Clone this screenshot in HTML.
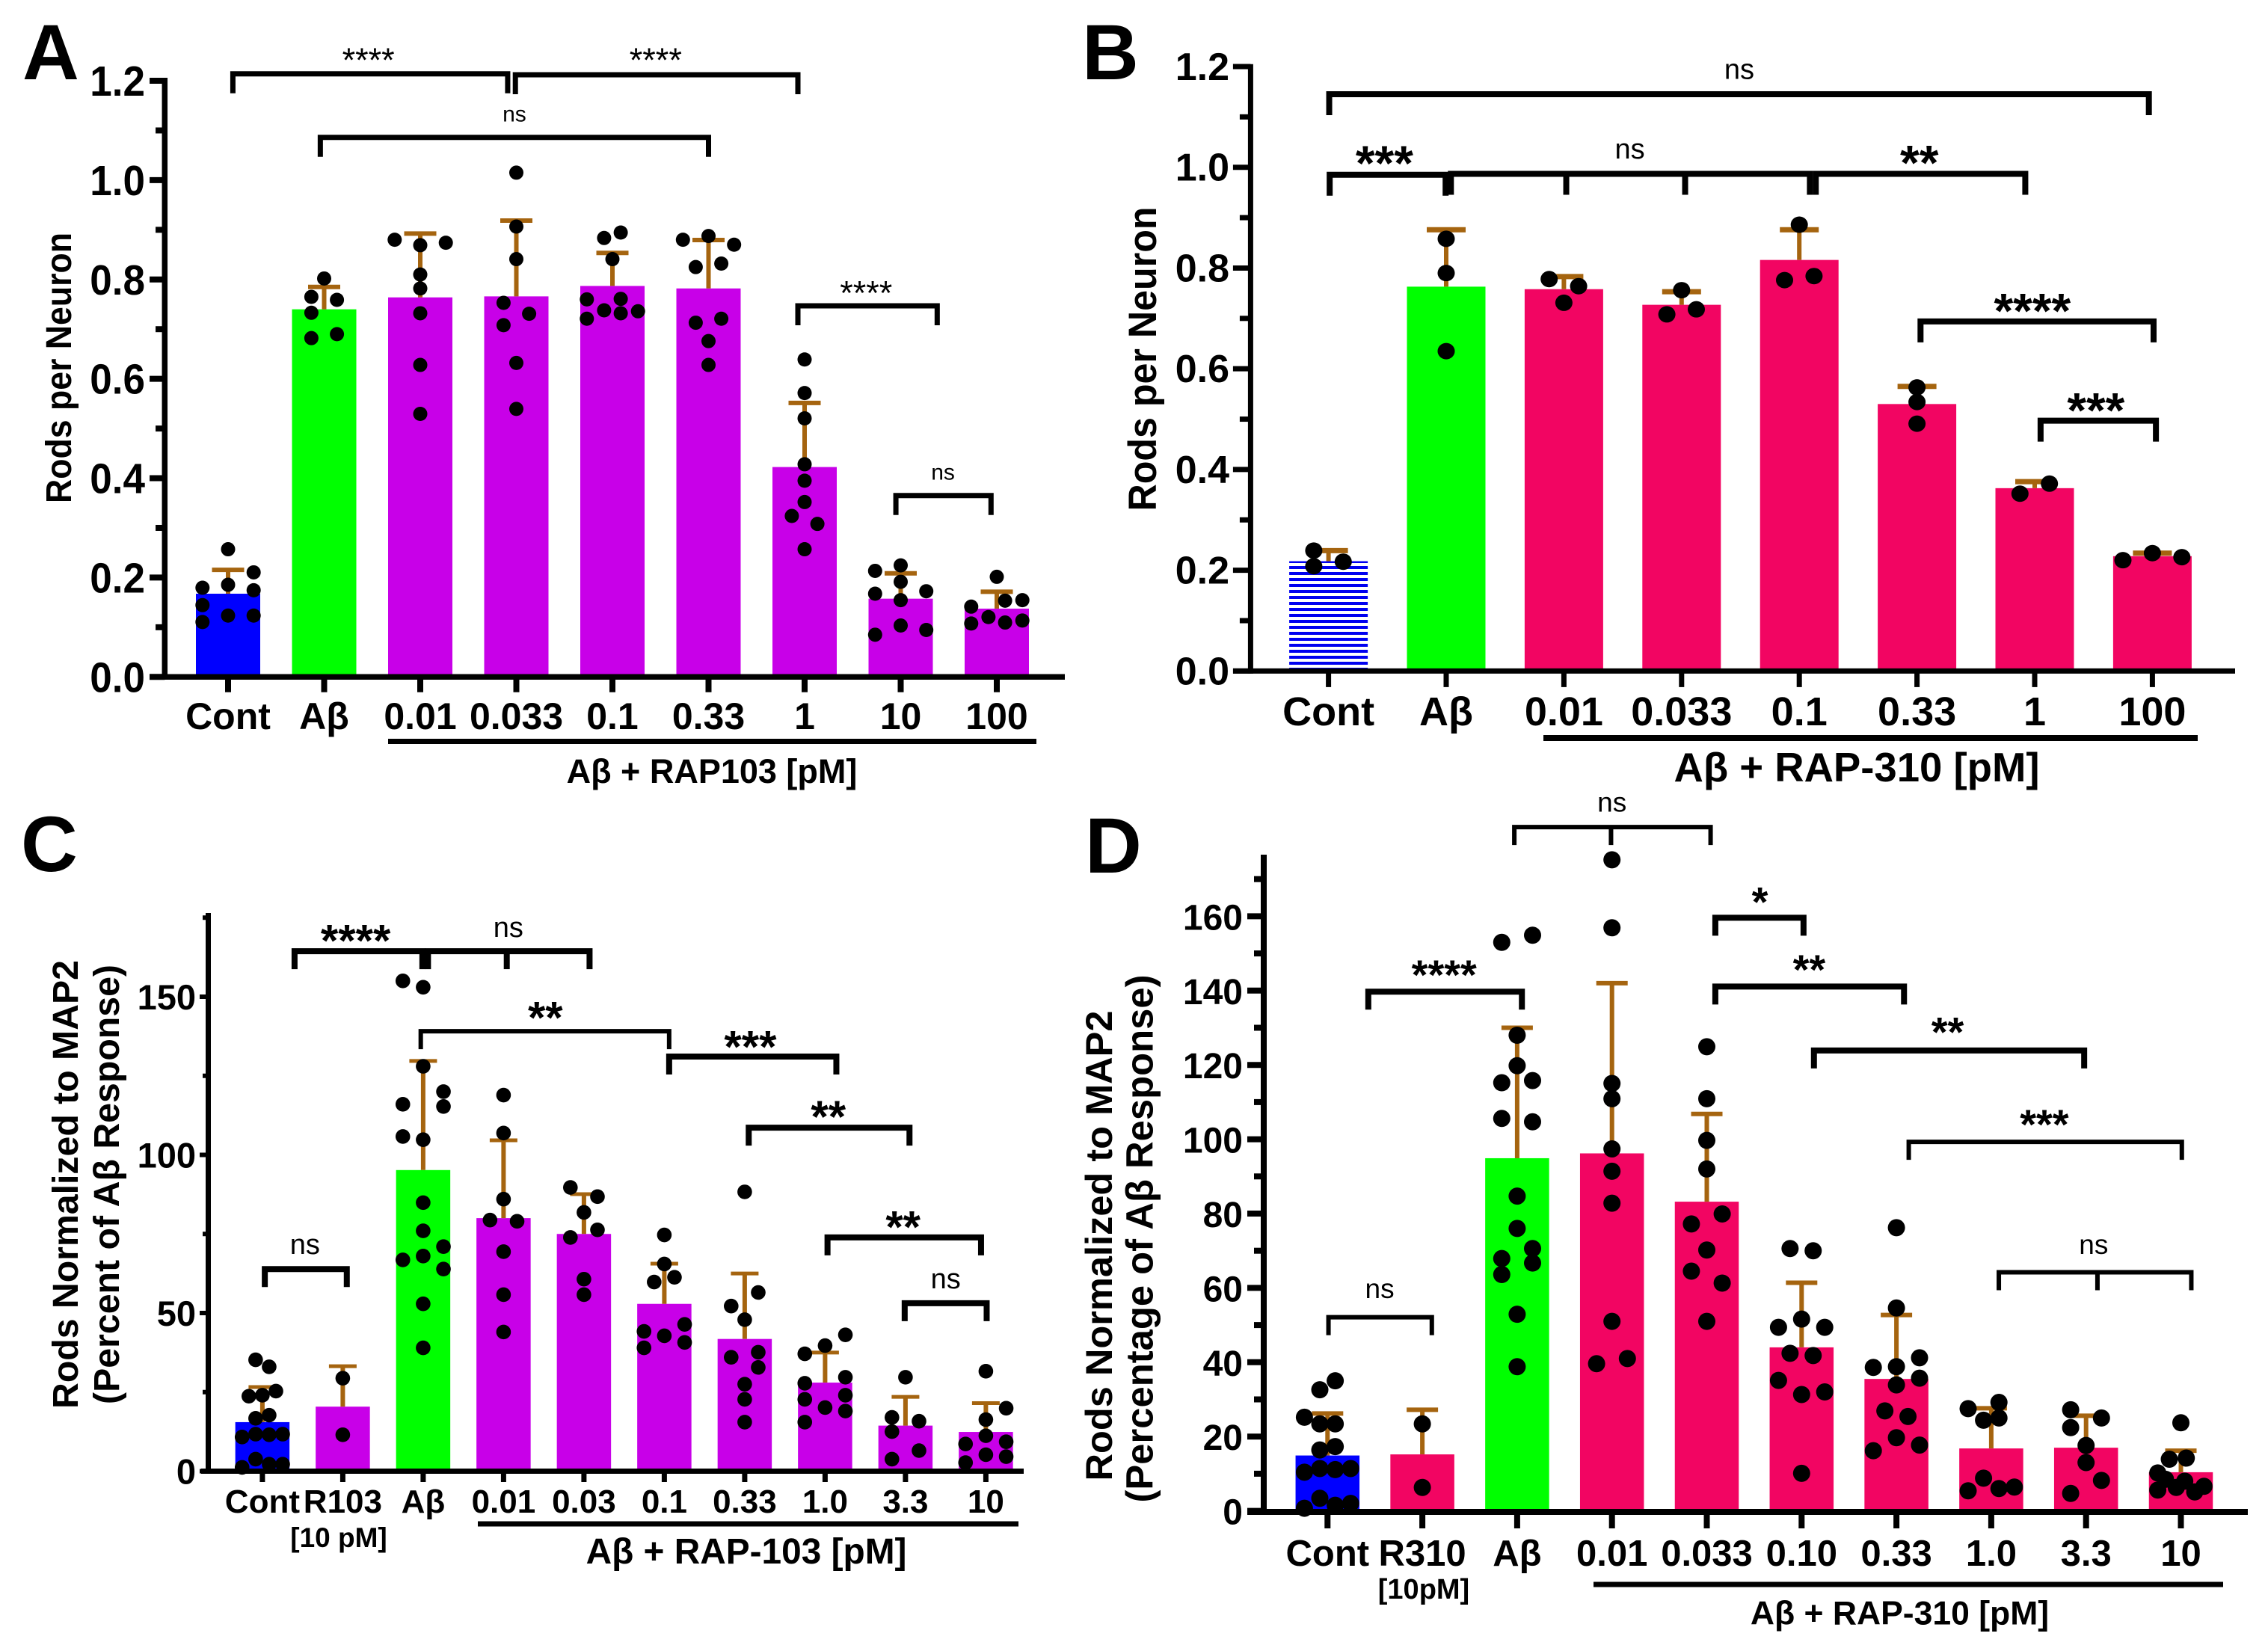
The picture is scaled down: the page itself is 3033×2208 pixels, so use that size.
<!DOCTYPE html>
<html lang="en">
<head>
<meta charset="utf-8">
<title>Rods per neuron bar charts</title>
<style>
html,body{margin:0;padding:0;background:#fff;}
svg{display:block;}
text{font-family:"Liberation Sans","DejaVu Sans",sans-serif;fill:#000;}
</style>
</head>
<body>
<svg id="figure" xmlns="http://www.w3.org/2000/svg" width="3033" height="2208" viewBox="0 0 3033 2208">
  <defs>
    <pattern id="hatch" patternUnits="userSpaceOnUse" x="0" y="5" width="8" height="8">
      <rect x="0" y="0" width="8" height="4" fill="#0000f0"></rect>
    </pattern>
  </defs>
  <rect x="0" y="0" width="3033" height="2208" fill="#fff"></rect>
  <g id="panel-a"></g>
  <g id="panel-b"></g>
  <g id="panel-c"></g>
  <g id="panel-d"></g>
  <text x="30" y="106" font-size="105" font-weight="700">A</text>
  <text x="1447" y="106" font-size="105" font-weight="700">B</text>
  <text x="28" y="1165" font-size="105" font-weight="700">C</text>
  <text x="1451" y="1167" font-size="105" font-weight="700">D</text>
</svg>
<script>
// ---------- Panel A data ----------
const catsA = ['Cont','Aβ','0.01','0.033','0.1','0.33','1','10','100'];
const barsA = [0.1675,0.740,0.764,0.766,0.787,0.782,0.4225,0.1575,0.1375];
const errsA = [0.2155,0.785,0.8925,0.9185,0.8535,0.8795,0.5515,0.2085,0.1715];
const yTicksA = ['0.0','0.2','0.4','0.6','0.8','1.0','1.2'];
const dotsA = [
  [0.257,0.1795,0.2105,0.1855,0.1745,0.1445,0.1235,0.1235,0.1105],
  [0.802,0.765,0.759,0.733,0.682,0.690],
  [0.880,0.874,0.869,0.810,0.782,0.732,0.628,0.5295],
  [1.015,0.9065,0.841,0.753,0.731,0.708,0.632,0.5395],
  [0.8945,0.8835,0.841,0.760,0.761,0.738,0.732,0.721,0.736],
  [0.880,0.8875,0.870,0.825,0.832,0.713,0.721,0.676,0.628],
  [0.639,0.5715,0.5205,0.428,0.395,0.352,0.324,0.308,0.257],
  [0.2135,0.2245,0.1915,0.1725,0.1675,0.1545,0.1035,0.0945,0.085],
  [0.2015,0.1415,0.1535,0.1545,0.1205,0.1075,0.1095,0.1135]
];
const slotsA = [
  [0,-2,2,0,2,-2,0,2,-2],
  [0,-1,1,-1,-1,1],
  [-2,2,0,0,0,0,0,0],
  [0,0,0,-1,1,-1,0,0],
  [0.65,-0.65,0,-2,0.65,-0.65,0.65,-2,2],
  [-2,0,2,-1,1,-1,1,0,0],
  [0,0,0,0,0,0,-1,1,0],
  [-2,0,0,2,-2,0,0,2,-2],
  [0,-2,0.65,2,-0.65,-2,0.65,2]
];
// from, to, value, label, label index, label value, extra inner legs
const bracketsA = [
  [0.05,2.91,1.214,'****',1.46,1.25],
  [2.99,5.93,1.212,'****',4.45,1.25],
  [0.96,5.0,1.086,'ns',2.98,1.13],
  [5.93,7.38,0.747,'****',6.64,0.781],
  [6.95,7.94,0.365,'ns',7.44,0.409]
];

// ---------- Panel B data ----------
const catsB = ['Cont','Aβ','0.01','0.033','0.1','0.33','1','100'];
const barsB = [0.218,0.763,0.758,0.727,0.816,0.53,0.363,0.228];
const errsB = [0.239,0.876,0.783,0.753,0.876,0.565,0.376,0.234];
const yTicksB = ['0.0','0.2','0.4','0.6','0.8','1.0','1.2'];
const dotsB = [
  [0.239,0.208,0.217],
  [0.858,0.79,0.635],
  [0.778,0.764,0.731],
  [0.756,0.718,0.708],
  [0.886,0.784,0.776],
  [0.563,0.534,0.491],
  [0.372,0.352],
  [0.234,0.226,0.22]
];
const slotsB = [
  [-1,-1,1],
  [0,0,0],
  [-1,1,0],
  [0,1,-1],
  [0,1,-1],
  [0,0,0],
  [1,-1],
  [0,2,-2]
];
const bracketsB = [
  [0.006,6.97,1.145,'ns',3.49,1.19],
  [0.01,0.995,0.985,'***',0.475,1.02],
  [1.04,4.09,0.987,'ns',2.56,1.032,2.02,3.03],
  [4.14,5.92,0.987,'**',5.02,1.021],
  [5.03,7.01,0.694,'****',5.98,0.727],
  [6.05,7.03,0.497,'***',6.52,0.53]
];

// ---------- Panel C data ----------
const catsC = ['Cont','R103','Aβ','0.01','0.03','0.1','0.33','1.0','3.3','10'];
const barsC = [15.5,20.4,95.2,80,75,52.9,41.8,28,14.4,12.4];
const errsC = [26.6,33.2,129.7,104.6,87.6,65.6,62.5,37.5,23.5,21.5];
const yTicksC = ['0','50','100','150'];
const dotsC = [
  [35.2,33,23.7,25.3,24,16.7,17.7,10.8,11.7,11.5,11.7,3.8,2.2,2.2,1.2],
  [29.4,11.5],
  [155,153,128,120,115.3,116,105.8,104.8,84.9,76,71,68,66.8,63.9,52.9,39],
  [118.9,106.9,86,79.4,79,69.4,55.8,44],
  [89.7,86.8,81.8,76.3,73.9,60.7,55.8],
  [74.7,65.5,59.8,61.3,44.2,46.4,42.8,40.7,39],
  [88.3,56.5,52.2,47.9,37.6,36,32.8,27.5,22.7,15.5],
  [43.1,39.7,37.1,29.7,27.8,24,22.7,20.1,19,15.5],
  [29.7,17,15.8,12.5,6.5,3.8],
  [31.6,19.9,16.3,11.2,8.6,9.3,5.2,4.6,2.7]
];
const slotsC = [
  [-0.5,0.5,-1,1,0,-0.5,0.5,-1.5,-0.5,0.5,1.5,-0.5,0.5,1.5,-1.5],
  [0,0],
  [-1.5,0,0,1.5,1.5,-1.5,-1.5,0,0,0,1.5,0,-1.5,1.5,0,0],
  [0,0,0,-1,1,0,0,0],
  [-1,1,0,1,-1,0,0],
  [0,0,-0.75,0.75,-1.5,1.5,0,1.5,-1.5],
  [0,1,-1,0,1,-1,1,0,0,0],
  [1.5,0,-1.5,1.5,-1.5,1.5,-1.5,0,1.5,-1.5],
  [0,-1,1,-1,1,-1],
  [0,1.5,0,0,-1.5,1.5,0,1.5,-1.5]
];
const bracketsC = [
  [0.03,1.05,63.9,'ns',0.53,71],
  [0.4,1.99,164.4,'****',1.16,169.6],
  [2.06,4.07,164.4,'ns',3.06,171.3,3.04],
  [1.97,5.06,139.1,'**',3.52,145.2],
  [5.06,7.14,131.1,'***',6.07,136],
  [6.05,8.05,108.6,'**',7.04,113.9],
  [7.03,8.94,73.9,'**',7.97,79],
  [7.99,9.01,53.1,'ns',8.5,60.1]
];

// ---------- Panel D data ----------
const catsD = ['Cont','R310','Aβ','0.01','0.033','0.10','0.33','1.0','3.3','10'];
const barsD = [14.9,15.2,94.9,96.2,83.2,44,35.5,16.8,17,10.4];
const errsD = [26.2,27.2,130,142,106.8,61.4,52.7,27.6,25.6,16.2];
const yTicksD = ['0','20','40','60','80','100','120','140','160'];
const dotsD = [
  [35,32.6,25.2,23.4,23.4,17.3,16.4,11.4,11.1,11.4,10.4,3.4,2,1.5,0.7],
  [23.4,6.3],
  [153,154.9,128,119.8,115.2,115.8,105.6,104.7,84.7,76,70.6,67.9,66.7,63.6,52.9,38.8],
  [175.2,156.9,115,110.9,97.4,91.4,82.8,51,41,39.6],
  [124.9,110.9,99.7,92,79.9,77.2,70.2,64.5,61.3,51],
  [70.6,70,51.6,49.4,49.4,42.4,41.8,35.1,32,31.3,10.1],
  [76.2,54.6,41.2,38.6,38.8,35.7,33.9,26.9,25.4,19.7,17.7,16.2],
  [29.2,27.5,24.4,25,8.8,5.4,6,6.4],
  [27.2,25,22.4,17.6,13,8.2,4.7],
  [23.7,13.9,14.2,10.2,8.5,8,6.6,5.6,6.3,5.1]
];
const slotsD = [
  [0.5,-0.5,-1.5,-0.5,0.5,0.5,-0.5,1.5,0.5,-0.5,-1.5,-0.5,1.5,0.5,-1.5],
  [0,0],
  [-1,1,0,0,-1,1,-1,1,0,0,1,-1,1,-1,0,0],
  [0,0,0,0,0,0,0,0,1,-1],
  [0,0,0,0,1,-1,0,-1,1,0],
  [-0.75,0.75,0,-1.5,1.5,-0.75,0.75,-1.5,1.5,0,0],
  [0,0,1.5,-1.5,0,1.5,0,-0.75,0.75,0,1.5,-1.5],
  [0.5,-1.5,-0.5,0.5,-0.5,-1.5,0.5,1.5],
  [-1,1,-1,0,0,1,-1],
  [0,-0.75,0.35,-1.5,-1,0.25,1.5,-1.5,-0.3,0.9]
];
const bracketsD = [
  [0.01,1.1,52.1,'ns',0.55,59.2],
  [0.43,2.05,139.7,'****',1.23,145.7],
  [1.97,4.04,184,'ns',3.0,190.1,2.99],
  [4.09,5.02,159.6,'*',4.56,165.3],
  [4.09,6.08,141.1,'**',5.08,147.1],
  [5.13,7.98,123.9,'**',6.54,130.3],
  [6.13,9.01,99.3,'***',7.56,105.4],
  [7.08,9.11,64.2,'ns',8.08,71.1,8.12]
];

// ---------- Panel layout (pixel geometry and styling only) ----------
const BLUE = '#0000ff', GREEN = '#00ff00', PURPLE = '#c800e8', PINK = '#f20562', HATCH = 'url(#hatch)';
const layoutA = {id:'panel-a', x0:305, dx:128.5, y0:905.3, k:664.4, xAxisY:905.3, axisX:220.3, axisW:7.5, xAxisW:7.5, xAxisL:200, xAxisR:1424, axisTop:107, barW:86, slot:17.1,
  rx:9.5, ry:9.5, capW:43, errCapH:6, tickLabelR:194, tickFont:57, tickSX:0.93, tickDy:20, majorL:16.5, minorL:8.5, tickW:8, xTick:16.7, xTickW:8, xFont:50, xBase:975,
  fills:[BLUE,GREEN,PURPLE,PURPLE,PURPLE,PURPLE,PURPLE,PURPLE,PURPLE],
  brW:7, brThin:[], leg:26, nsFont:30, starFont:45, starWeight:400, yMaxLine:1.2, groupL:519, groupR:1386, groupY:991.5, groupH:7,
  groupText:'Aβ + RAP103 [pM]', groupX:952, groupBase:1047, groupFont:45,
  titles:[{t:'Rods per Neuron', x:95, y:492, len:362, font:48}]};
const layoutB = {id:'panel-b', x0:1776.6, dx:157.4, y0:897.4, k:673.7, xAxisY:897.4, axisX:1672.4, axisW:7, xAxisW:7, xAxisL:1649, xAxisR:2989, axisTop:88.8, barW:105, slot:19.7,
  rx:11.5, ry:11, capW:52, errCapH:7, tickLabelR:1644, tickFont:52, tickSX:1, tickDy:18, majorL:20, minorL:11, tickW:7, xTick:18, xTickW:7, xFont:54, xBase:970,
  fills:[HATCH,GREEN,PINK,PINK,PINK,PINK,PINK,PINK],
  brW:8, brThin:[], leg:28, nsFont:38, starFont:66, starWeight:700, yMaxLine:1.2, groupL:2064, groupR:2939, groupY:987, groupH:8,
  groupText:'Aβ + RAP-310 [pM]', groupX:2483, groupBase:1045, groupFont:54.5,
  titles:[{t:'Rods per Neuron', x:1546, y:480, len:407, font:53}]};
const layoutC = {id:'panel-c', x0:350.9, dx:107.5, y0:1967.5, k:4.23, xAxisY:1967.5, axisX:278.5, axisW:7, xAxisW:7, xAxisL:269, xAxisR:1369, axisTop:1224, barW:72.5, slot:18.1,
  rx:9.8, ry:9.8, capW:37, errCapH:5, tickLabelR:262, tickFont:47, tickSX:1, tickDy:17, majorL:8, minorL:4, tickW:6, xTick:11, xTickW:7, xFont:44, xBase:2023,
  fills:[BLUE,PURPLE,GREEN,PURPLE,PURPLE,PURPLE,PURPLE,PURPLE,PURPLE,PURPLE],
  brW:8, brThin:[3], leg:24, nsFont:38, starFont:60, starWeight:700, yMaxLine:175, groupL:639, groupR:1362, groupY:2038, groupH:7,
  groupText:'Aβ + RAP-103 [pM]', groupX:998, groupBase:2091, groupFont:47.8,
  subText:'[10 pM]', subX:453, subBase:2069, subFont:37,
  titles:[{t:'Rods Normalized to MAP2', x:104, y:1584, len:600, font:48},{t:'(Percent of Aβ Response)', x:159, y:1584, len:588, font:48}]};
const layoutD = {id:'panel-d', x0:1775.3, dx:126.8, y0:2020.6, k:4.97, xAxisY:2022, axisX:1690, axisW:8, xAxisW:8, xAxisL:1668, xAxisR:3006, axisTop:1146, barW:85.5, slot:20.6,
  rx:11.5, ry:11.5, capW:42, errCapH:6, tickLabelR:1662, tickFont:48, tickSX:1, tickDy:18, majorL:18, minorL:9, tickW:8, xTick:18, xTickW:8, xFont:49, xBase:2094,
  fills:[BLUE,PINK,GREEN,PINK,PINK,PINK,PINK,PINK,PINK,PINK],
  brW:8, brThin:[0,2,6,7], leg:24, nsFont:37, starFont:56, starWeight:700, yMaxLine:170, groupL:2131, groupR:2973, groupY:2119, groupH:7,
  groupText:'Aβ + RAP-310 [pM]', groupX:2540.5, groupBase:2172.5, groupFont:44.5,
  subText:'[10pM]', subX:1904, subBase:2138, subFont:38,
  titles:[{t:'Rods Normalized to MAP2', x:1487, y:1666, len:629, font:50.5},{t:'(Percentage of Aβ Response)', x:1541.5, y:1656.5, len:706, font:50.7}]};

const NS = 'http://www.w3.org/2000/svg';
function mk(parent, tag, attrs, content) {
  const el = document.createElementNS(NS, tag);
  for (const k in attrs) el.setAttribute(k, attrs[k]);
  if (content !== undefined) el.textContent = content;
  parent.appendChild(el);
  return el;
}
function slugOf(s) { return String(s).replace(/β/g,'beta').replace(/[^A-Za-z0-9]+/g,'-').toLowerCase(); }

function drawPanel(L, cats, bars, errs, dots, slots, yTicks, brackets) {
  const g = document.getElementById(L.id);
  const xAt = i => L.x0 + i * L.dx;
  const yAt = v => L.y0 - v * L.k;

  // bars
  bars.forEach((v, i) => {
    const el = mk(g, 'rect', {x: xAt(i) - L.barW/2, y: yAt(v), width: L.barW, height: v * L.k, fill: L.fills[i]});
    
    
  });

  // error bars
  errs.forEach((v, i) => {
    const eg = mk(g, 'g', {});
    
    
    mk(eg, 'line', {x1: xAt(i), x2: xAt(i), y1: yAt(bars[i]), y2: yAt(v), stroke: '#a5640f', 'stroke-width': 6});
    mk(eg, 'line', {x1: xAt(i) - L.capW/2, x2: xAt(i) + L.capW/2, y1: yAt(v), y2: yAt(v), stroke: '#a5640f', 'stroke-width': L.errCapH});
  });

  // axes
  const yAxis = mk(g, 'line', {x1: L.axisX, x2: L.axisX, y1: L.axisTop - 3, y2: L.xAxisY + L.xAxisW/2, stroke: '#000', 'stroke-width': L.axisW});
  
  
  const xAxis = mk(g, 'line', {x1: L.xAxisL, x2: L.xAxisR, y1: L.xAxisY, y2: L.xAxisY, stroke: '#000', 'stroke-width': L.xAxisW});
  
  

  // y ticks and labels
  const step = parseFloat(yTicks[1]) - parseFloat(yTicks[0]);
  yTicks.forEach(lbl => {
    const v = parseFloat(lbl);
    const t = mk(g, 'line', {x1: L.axisX - L.axisW/2 - L.majorL, x2: L.axisX, y1: yAt(v), y2: yAt(v), stroke: '#000', 'stroke-width': L.tickW});
    
    
    const tl = mk(g, 'text', {x: 0, y: 0, transform: 'translate(' + L.tickLabelR + ' ' + (yAt(v) + L.tickDy) + ') scale(' + L.tickSX + ' 1)', 'text-anchor': 'end', 'font-size': L.tickFont, 'font-weight': 700}, lbl);
    
    
  });
  for (let m = step / 2; m <= L.yMaxLine + 1e-6; m += step) {
    const t = mk(g, 'line', {x1: L.axisX - L.axisW/2 - L.minorL, x2: L.axisX, y1: yAt(m), y2: yAt(m), stroke: '#000', 'stroke-width': L.tickW});
    
    
  }

  // x ticks and labels
  cats.forEach((c, i) => {
    const t = mk(g, 'line', {x1: xAt(i), x2: xAt(i), y1: L.xAxisY, y2: L.xAxisY + L.xAxisW/2 + L.xTick, stroke: '#000', 'stroke-width': L.xTickW});
    
    
    const tl = mk(g, 'text', {x: xAt(i), y: L.xBase, 'text-anchor': 'middle', 'font-size': L.xFont, 'font-weight': 700}, c);
    
    
  });

  // data points
  dots.forEach((arr, i) => {
    arr.forEach((v, j) => {
      const d = mk(g, 'ellipse', {cx: xAt(i) + slots[i][j] * L.slot, cy: yAt(v), rx: L.rx, ry: L.ry, fill: '#000'});
      
      
    });
  });

  // significance brackets
  brackets.forEach((b, n) => {
    const bg = mk(g, 'g', {});
    
    
    const xa = xAt(b[0]), xb = xAt(b[1]), yy = yAt(b[2]);
    const w = L.brThin.includes(n) ? 6 : L.brW;
    mk(bg, 'path', {d: 'M' + xa + ' ' + (yy + L.leg) + 'V' + yy + 'H' + xb + 'V' + (yy + L.leg), fill: 'none', stroke: '#000', 'stroke-width': w});
    b.slice(6).forEach(ix => {
      mk(bg, 'line', {x1: xAt(ix), x2: xAt(ix), y1: yy, y2: yy + L.leg, stroke: '#000', 'stroke-width': w});
    });
    const isNs = b[3] === 'ns';
    const fs = isNs ? L.nsFont : L.starFont;
    const dy = isNs ? 0.26 * fs : 0.47 * fs;
    const lab = mk(bg, 'text', {x: xAt(b[4]), y: yAt(b[5]) + dy, 'text-anchor': 'middle', 'font-size': fs, 'font-weight': isNs ? 400 : L.starWeight}, b[3]);
    
    
  });

  // treatment group underline and label
  const gl = mk(g, 'line', {x1: L.groupL, x2: L.groupR, y1: L.groupY, y2: L.groupY, stroke: '#000', 'stroke-width': L.groupH});
  
  
  const gt = mk(g, 'text', {x: L.groupX, y: L.groupBase, 'text-anchor': 'middle', 'font-size': L.groupFont, 'font-weight': 700}, L.groupText);
  
  
  if (L.subText) {
    const st = mk(g, 'text', {x: L.subX, y: L.subBase, 'text-anchor': 'middle', 'font-size': L.subFont, 'font-weight': 700}, L.subText);
    
    
  }

  // y axis titles
  L.titles.forEach(T => {
    const yt = mk(g, 'text', {x: 0, y: 0, transform: 'translate(' + T.x + ' ' + T.y + ') rotate(-90)', 'text-anchor': 'middle', 'font-size': T.font, 'font-weight': 700, textLength: T.len, lengthAdjust: 'spacingAndGlyphs'}, T.t);
    
    
  });
}

drawPanel(layoutA, catsA, barsA, errsA, dotsA, slotsA, yTicksA, bracketsA);
drawPanel(layoutB, catsB, barsB, errsB, dotsB, slotsB, yTicksB, bracketsB);
drawPanel(layoutC, catsC, barsC, errsC, dotsC, slotsC, yTicksC, bracketsC);
drawPanel(layoutD, catsD, barsD, errsD, dotsD, slotsD, yTicksD, bracketsD);
</script>
</body>
</html>
